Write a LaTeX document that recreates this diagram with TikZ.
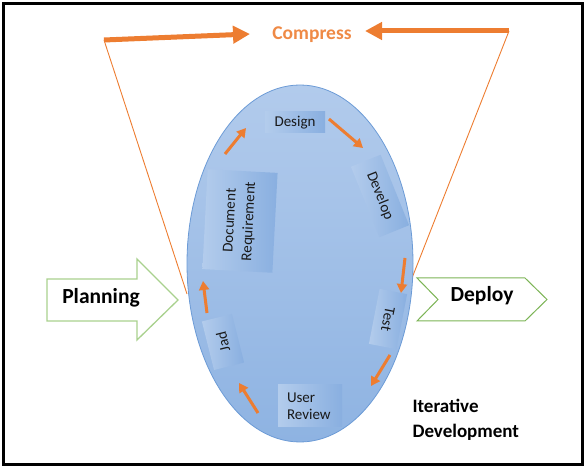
\documentclass[tikz,border=0pt]{standalone}
\usepackage{fontspec}
\setmainfont{Carlito}
\usetikzlibrary{arrows.meta,shapes.geometric}
\definecolor{orng}{HTML}{ED7D31}
\definecolor{ellTop}{HTML}{B2CBEC}
\definecolor{ellBot}{HTML}{8EB3E2}
\definecolor{ellBorder}{HTML}{6C9BD6}
\definecolor{boxL}{HTML}{B3CCEC}
\definecolor{boxD}{HTML}{89AFE0}
\definecolor{grnA}{HTML}{A9D18E}
\definecolor{grnB}{HTML}{7CB456}
\begin{document}
\begin{tikzpicture}[x=1pt,y=-1pt,
  stepbox/.style={inner sep=0pt, align=center, font=\fontsize{15}{17}\selectfont, text=black!90, left color=boxL, right color=boxD},
  cyc/.style={draw=orng, line width=3pt, -{Triangle[length=9pt,width=10pt]}},
  bigarr/.style={draw=orng, line width=5pt, -{Triangle[length=17pt,width=17pt]}},
  thinline/.style={draw=orng, line width=0.9pt},
  boldlbl/.style={font=\fontsize{21.5}{24}\selectfont\bfseries, text=black}]
\useasboundingbox (0,0) rectangle (587,470);
\draw[line width=3pt] (3.5,4) rectangle (582.5,464.5);

% thin lines from arrow tails to ellipse
\coordinate (lt) at (104,40);
\coordinate (lb) at (187,294);
\coordinate (rt) at (509,31);
\coordinate (rb) at (412,278);
\draw[thinline] (lt) -- (lb);
\draw[thinline] (rt) -- (rb);

% ellipse
\node[ellipse, draw=ellBorder, line width=0.8pt, top color=ellTop, bottom color=ellBot,
  minimum width=226pt, minimum height=357pt, inner sep=0pt] (ell) at (300,263.5) {};

% compress
\node[font=\fontsize{19.5}{22}\selectfont\bfseries, text=orng!90] (cmp) at (312,35) {Compress};
\coordinate (lh) at (250,34);
\coordinate (rh) at (365,31);
\draw[bigarr] (lt) -- (lh);
\draw[bigarr] (rt) -- (rh);

% planning arrow
\draw[grnA, line width=1.3pt, fill=white] (47,279) -- (137,279) -- (137,259) -- (178,300) -- (137,340) -- (137,321) -- (47,321) -- cycle;
\node[boldlbl] (plan) at (101,298) {Planning};

% deploy chevron
\draw[grnB, line width=1pt, fill=white] (417,278) -- (525,278) -- (547,299.5) -- (525,321) -- (417,321) -- (438,299.5) -- cycle;
\node[boldlbl] (dep) at (482,296) {Deploy};

% iterative development
\node[anchor=west, align=left, font=\fontsize{19}{25}\selectfont\bfseries, text=black] (itd) at (409,419.5) {Iterative\\Development};

% boxes
\node[stepbox, minimum width=60pt, minimum height=21pt] (des) at (295,122.5) {Design};
\node[stepbox, minimum width=76pt, minimum height=32pt, rotate=-68] (dev) at (380,196) {Develop};
\node[stepbox, minimum width=56pt, minimum height=28pt, rotate=-101] (tst) at (388,319) {Test};
\node[stepbox, minimum width=64pt, minimum height=42pt, align=left, text width=46pt] (usr) at (310,406) {User\\Review};
\node[stepbox, minimum width=50pt, minimum height=31pt, rotate=104] (jad) at (223,342) {Jad};
\node[stepbox, minimum width=100pt, minimum height=70pt, rotate=87, font=\fontsize{15}{19}\selectfont] (doc) at (240,221) {Document\\Requirement};

% cycle arrows
\coordinate (a1) at (225,154); \coordinate (b1) at (246,128);
\coordinate (a2) at (329,119); \coordinate (b2) at (363,148);
\coordinate (a3) at (405,258); \coordinate (b3) at (401,293);
\coordinate (a4) at (390,355); \coordinate (b4) at (371,386);
\coordinate (a5) at (258,413); \coordinate (b5) at (239,383);
\coordinate (a6) at (207,313); \coordinate (b6) at (203,281);
\draw[cyc] (a1) -- (b1);
\draw[cyc] (a2) -- (b2);
\draw[cyc] (a3) -- (b3);
\draw[cyc] (a4) -- (b4);
\draw[cyc] (a5) -- (b5);
\draw[cyc] (a6) -- (b6);
\end{tikzpicture}
\end{document}
